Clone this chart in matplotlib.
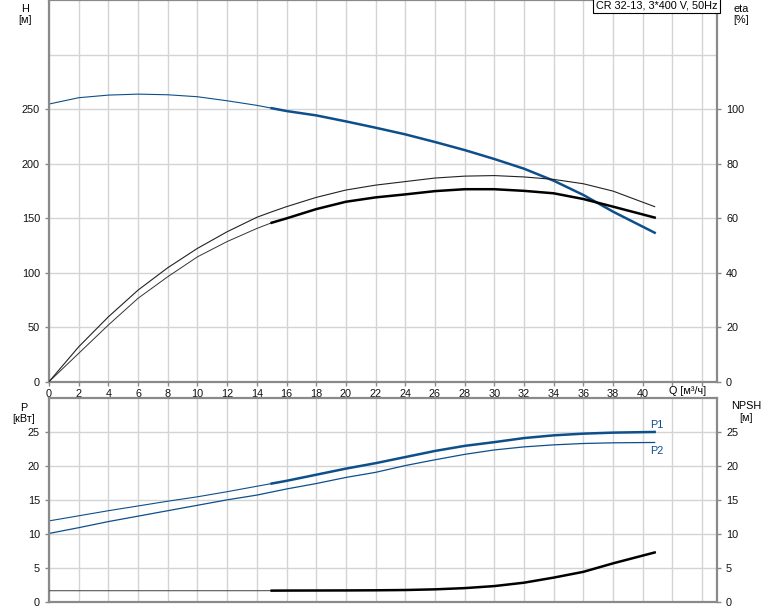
import matplotlib
matplotlib.use("Agg")
import matplotlib.pyplot as plt

plt.rcParams['font.family'] = ['Liberation Sans', 'DejaVu Sans']

# ---- data ----
Q = [0, 2, 4, 6, 8, 10, 12, 14, 15, 16, 18, 20, 22, 24, 26, 28, 30, 32, 34, 36, 38, 40.8]
H = [254.6, 260.4, 262.8, 263.7, 263.1, 261.3, 257.6, 253.4, 250.8, 248.2, 244.2, 238.7,
     232.9, 226.8, 219.8, 212.4, 204.2, 195.3, 184.3, 171.2, 155.9, 136.6]
eta_total = [0, 12.8, 23.8, 33.6, 41.8, 48.9, 55.0, 60.3, 62.3, 64.2, 67.6, 70.3,
             72.1, 73.4, 74.7, 75.4, 75.6, 75.1, 74.2, 72.6, 69.9, 64.2]
eta_pump = [0, 10.4, 20.8, 30.6, 38.5, 45.8, 51.4, 56.2, 58.3, 59.9, 63.3, 66.0,
            67.6, 68.7, 69.9, 70.6, 70.6, 70.0, 69.1, 67.0, 64.2, 60.2]
P1 = [11.9, 12.65, 13.4, 14.1, 14.8, 15.45, 16.2, 17.0, 17.4, 17.8, 18.7, 19.6,
      20.4, 21.3, 22.2, 22.95, 23.5, 24.1, 24.5, 24.75, 24.9, 25.0]
P2 = [10.05, 10.9, 11.8, 12.6, 13.4, 14.2, 15.0, 15.7, 16.15, 16.6, 17.4, 18.3,
      19.05, 20.05, 20.9, 21.7, 22.35, 22.8, 23.1, 23.3, 23.4, 23.45]
NPSH = [1.62, 1.62, 1.62, 1.62, 1.62, 1.62, 1.62, 1.62, 1.63, 1.64, 1.65, 1.66,
        1.68, 1.72, 1.82, 2.0, 2.3, 2.8, 3.55, 4.4, 5.65, 7.25]

x_ticks = list(range(0, 46, 2))
x_labels = [str(v) if v <= 40 else "" for v in x_ticks]
h_ticks = [0, 50, 100, 150, 200, 250]
h_extra_grid = [300]
eta_ticks = [0, 20, 40, 60, 80, 100]
p_ticks = [0, 5, 10, 15, 20, 25]
title = "CR 32-13, 3*400 V, 50Hz"

# ---- styling ----
BLUE = "#0d4f8b"
GRID = "#d4d4d4"
SPINE = "#8a8a8a"
FS = 7.8
split = Q.index(15)

fig = plt.figure(figsize=(7.74, 6.11), dpi=100)
W, Hh = 774, 611

def ax_rect(l, t, r, b):
    return [l / W, 1 - b / Hh, (r - l) / W, (b - t) / Hh]

def style(ax):
    for s in ax.spines.values():
        s.set_color(SPINE)
        s.set_linewidth(1.6)
    ax.tick_params(colors=SPINE, labelcolor="#111111", labelsize=FS, length=3, width=1)
    ax.set_xlim(0, 45)
    ax.set_xticks(x_ticks)
    ax.grid(True, color=GRID, linewidth=1.0)
    ax.set_axisbelow(True)

# ---- top: H and eta ----
ax1 = fig.add_axes(ax_rect(49, 0, 717, 381.7))
style(ax1)
ax1.set_ylim(0, 350)
ax1.set_yticks(h_ticks)
for g in h_extra_grid:
    ax1.axhline(g, color=GRID, linewidth=1.0, zorder=0)
ax1.set_xticklabels(x_labels)
ax1.tick_params(axis="x", pad=2)

ax1.plot(Q[:split + 1], H[:split + 1], color=BLUE, lw=0.8)
ax1.plot(Q[split:], H[split:], color=BLUE, lw=1.8)

ax1r = ax1.twinx()
ax1r.set_ylim(0, 140)
ax1r.set_yticks(eta_ticks)
ax1r.tick_params(colors=SPINE, labelcolor="#111111", labelsize=FS, length=3, width=1)
for s in ax1r.spines.values():
    s.set_visible(False)
ax1r.plot(Q, eta_total, color="#222222", lw=0.8)
ax1r.plot(Q[:split + 1], eta_pump[:split + 1], color="#333333", lw=0.7)
ax1r.plot(Q[split:], eta_pump[split:], color="black", lw=1.8)

ax1.text(1.0, 1.0, title, transform=ax1.transAxes, ha="right", va="top", fontsize=FS,
         bbox=dict(boxstyle="square,pad=0.25", fc="white", ec="black", lw=0.8), zorder=10)

fig.text(25 / W, 1 - 9 / Hh, "H", ha="center", va="center", fontsize=FS)
fig.text(25 / W, 1 - 20 / Hh, "[м]", ha="center", va="center", fontsize=FS)
fig.text(741 / W, 1 - 9 / Hh, "eta", ha="center", va="center", fontsize=FS)
fig.text(741 / W, 1 - 20 / Hh, "[%]", ha="center", va="center", fontsize=FS)
fig.text(688 / W, 1 - 391 / Hh, "Q [м³/ч]", ha="center", va="center", fontsize=FS)

# ---- bottom: P and NPSH ----
ax2 = fig.add_axes(ax_rect(49, 398, 717, 601.7))
style(ax2)
ax2.set_ylim(0, 30)
ax2.set_yticks(p_ticks)
ax2.tick_params(axis="x", length=0, labelbottom=False)

ax2.plot(Q[:split + 1], P1[:split + 1], color=BLUE, lw=0.8)
ax2.plot(Q[split:], P1[split:], color=BLUE, lw=1.8)
ax2.plot(Q, P2, color=BLUE, lw=0.9)
ax2.text(40.5, 26.0, "P1", color=BLUE, fontsize=FS, ha="left", va="center")
ax2.text(40.5, 22.2, "P2", color=BLUE, fontsize=FS, ha="left", va="center")

ax2r = ax2.twinx()
ax2r.set_ylim(0, 30)
ax2r.set_yticks(p_ticks)
ax2r.tick_params(colors=SPINE, labelcolor="#111111", labelsize=FS, length=3, width=1)
for s in ax2r.spines.values():
    s.set_visible(False)
ax2r.plot(Q[:split + 1], NPSH[:split + 1], color="#555555", lw=0.8)
ax2r.plot(Q[split:], NPSH[split:], color="black", lw=1.8)

fig.text(24 / W, 1 - 408 / Hh, "P", ha="center", va="center", fontsize=FS)
fig.text(24 / W, 1 - 419 / Hh, "[кВт]", ha="center", va="center", fontsize=FS)
fig.text(746 / W, 1 - 406 / Hh, "NPSH", ha="center", va="center", fontsize=FS)
fig.text(746 / W, 1 - 418 / Hh, "[м]", ha="center", va="center", fontsize=FS)

fig.savefig("out.png", dpi=100)
